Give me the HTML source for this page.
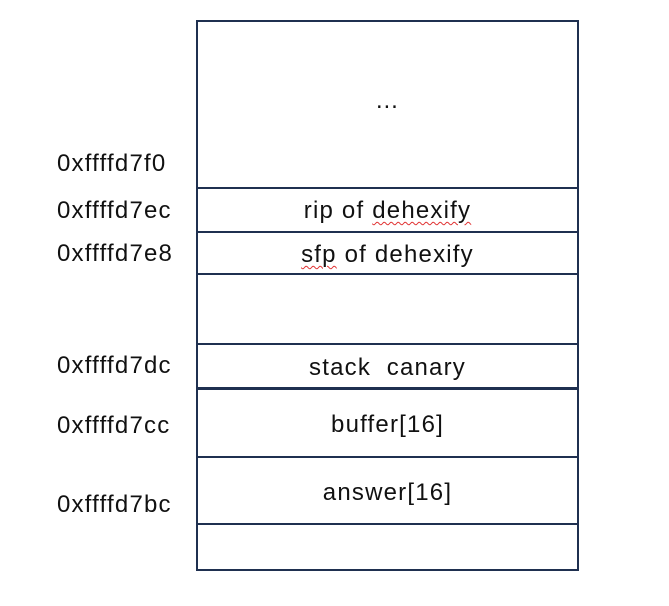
<!DOCTYPE html>
<html><head><style>
body{margin:0;width:669px;height:606px;background:#fff;position:relative;overflow:hidden;font-family:"Liberation Sans",sans-serif;color:#111;}
.box{position:absolute;left:196px;top:20px;width:379px;height:547px;border:2px solid #1f3050;}
.h{position:absolute;left:196px;width:383px;height:2px;background:#1f3050;}
.t{position:absolute;left:198px;width:379px;text-align:center;font-size:24px;line-height:26px;letter-spacing:1.2px;}
.l{position:absolute;left:57px;font-size:24px;line-height:26px;letter-spacing:1.2px;}
.sq{text-decoration:underline wavy #e03030;text-decoration-thickness:1px;text-underline-offset:3px;}
</style></head><body>
<div class="box"></div>
<div class="h" style="top:187px"></div>
<div class="h" style="top:231px"></div>
<div class="h" style="top:273px"></div>
<div class="h" style="top:343px"></div>
<div class="h" style="top:387px;height:3px"></div>
<div class="h" style="top:456px"></div>
<div class="h" style="top:523px"></div>
<div class="t" style="top:88px">…</div>
<div class="t" style="top:198px">rip of <span class="sq">dehexify</span></div>
<div class="t" style="top:242px"><span class="sq">sfp</span> of dehexify</div>
<div class="t" style="top:355px">stack&nbsp; canary</div>
<div class="t" style="top:412px">buffer[16]</div>
<div class="t" style="top:480px">answer[16]</div>
<div class="l" style="top:151px">0xffffd7f0</div>
<div class="l" style="top:198px">0xffffd7ec</div>
<div class="l" style="top:241px">0xffffd7e8</div>
<div class="l" style="top:353px">0xffffd7dc</div>
<div class="l" style="top:413px">0xffffd7cc</div>
<div class="l" style="top:492px">0xffffd7bc</div>
</body></html>
